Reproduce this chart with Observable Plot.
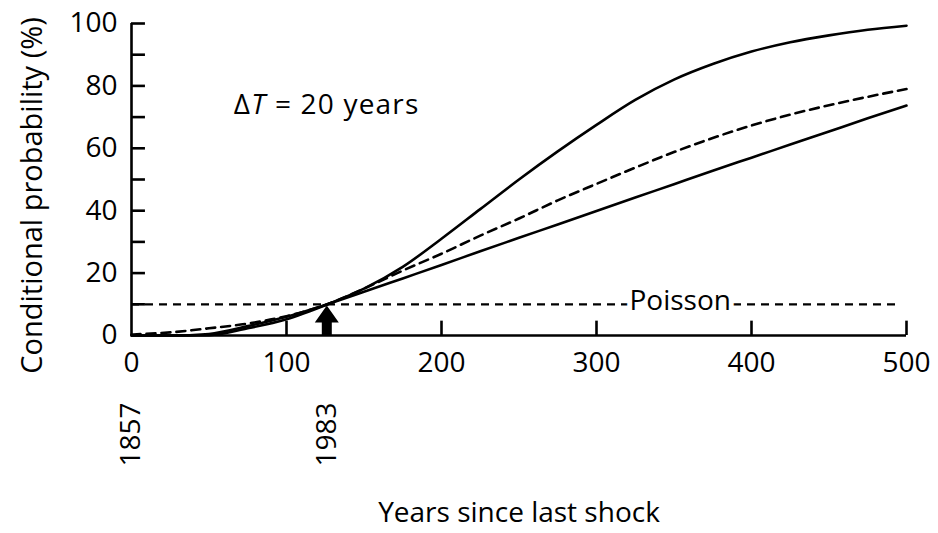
<!DOCTYPE html>
<html>
<head>
<meta charset="utf-8">
<script src="https://cdn.jsdelivr.net/npm/d3@7"></script>
<script src="https://cdn.jsdelivr.net/npm/@observablehq/plot@0.6"></script>
<style>
  html, body { margin: 0; padding: 0; background: #fff; }
</style>
</head>
<body>
<div id="chart"></div>
<script>
// ---- data ----
const years = [0, 25, 50, 75, 100, 125, 150, 175, 200, 225, 250, 275, 300, 325, 350, 375, 400, 425, 450, 475, 500];
// steep solid curve
const upperSolid = [0, 0, 0.1, 2.3, 5.2, 9.7, 15, 22, 31, 40.5, 50, 59, 67.5, 75.5, 82, 87, 91, 94, 96.2, 98, 99.3];
// dashed curve
const middleDashed = [0.3, 1, 2.3, 3.8, 6.2, 9.8, 15, 20.8, 26.2, 32, 37.5, 43.3, 48.6, 53.8, 58.8, 63.3, 67.3, 70.8, 73.8, 76.5, 79];
// shallow solid curve
const lowerSolid = [0, 0, 0.5, 3, 6, 9.8, 14, 18.3, 22.6, 27, 31.3, 35.6, 39.9, 44.2, 48.5, 52.8, 57, 61.2, 65.4, 69.6, 73.7];

const poissonLevel = [10];
const poissonExtent = [0, 495];
const poissonLabel = [{x: 354, y: 10, text: "Poisson"}];
const deltaLabel = [{x: 66, y: 74, text: "ΔT = 20 years"}];

const xTickLabels = [0, 100, 200, 300, 400, 500];
const yTickLabels = [0, 20, 40, 60, 80, 100];
const yTickMarks = [10, 20, 30, 40, 50, 60, 70, 80, 90, 100];
const xTickMarks = [100, 200, 300, 400, 500];
const referenceYear = 1857;
const yearLabels = [1857, 1983];
const arrowYear = [1983];

const xTitle = "Years since last shock";
const yTitle = "Conditional probability (%)";

// ---- build tables ----
const series = [
  {name: "upper", values: upperSolid, dash: null},
  {name: "middle", values: middleDashed, dash: "9,6"},
  {name: "lower", values: lowerSolid, dash: null}
];
const rows = series.flatMap(s => years.map((x, i) => ({series: s.name, x, y: s.values[i]})));

// filled arrow symbol (stem + head) pointing up from its anchor
const arrowSymbol = {
  draw(context) {
    context.moveTo(-5, 0);
    context.lineTo(-5, -13);
    context.lineTo(-12, -13);
    context.lineTo(0, -30);
    context.lineTo(12, -13);
    context.lineTo(5, -13);
    context.lineTo(5, 0);
    context.closePath();
  }
};

const lw = 2.6;

const chart = Plot.plot({
  width: 938,
  height: 533,
  marginLeft: 131,
  marginRight: 32,
  marginTop: 23,
  marginBottom: 198,
  style: {fontFamily: "'Open Sans', 'Noto Sans', sans-serif", fontSize: "28px", color: "#000", background: "#fff"},
  x: {domain: [0, 500]},
  y: {domain: [0, 100]},
  marks: [
    Plot.axisY(yTickLabels, {tickSize: 0, tickPadding: 14, label: null, fontSize: 28}),
    Plot.axisX(xTickLabels, {tickSize: 0, tickPadding: 17, label: null, fontSize: 28}),
    // axis lines
    Plot.ruleX([0], {y1: 0, y2: 100, strokeWidth: lw}),
    Plot.ruleY([0], {x1: 0, x2: 500, strokeWidth: lw}),
    // inward ticks
    Plot.ruleY(yTickMarks, {y: d => d, x1: 0, x2: 9, strokeWidth: lw}),
    Plot.ruleX(xTickMarks, {x: d => d, y1: 0, y2: 4.6, strokeWidth: lw}),
    // Poisson reference line
    Plot.ruleY(poissonLevel, {y: d => d, x1: poissonExtent[0], x2: poissonExtent[1], strokeWidth: 2.2, strokeDasharray: "8,6"}),
    Plot.text(poissonLabel, {x: "x", y: "y", text: "text", fontSize: 28, lineAnchor: "middle", dy: -3, stroke: "#fff", strokeWidth: 10, fill: "#000"}),
    // curves
    ...series.map(s => Plot.line(rows.filter(r => r.series === s.name), {
      x: "x", y: "y", curve: "monotone-x", stroke: "#000", strokeWidth: lw,
      strokeDasharray: s.dash || undefined
    })),
    // arrow at 1983
    Plot.dot(arrowYear, {x: d => d - referenceYear, y: 0, symbol: arrowSymbol, r: 10, fill: "#000", stroke: "none"}),
    // annotation
    Plot.text(deltaLabel, {x: "x", y: "y", text: "text", textAnchor: "start", lineAnchor: "middle", fontSize: 28}),
    // year labels below axis
    Plot.text(yearLabels, {x: d => d - referenceYear, text: d => String(d), frameAnchor: "bottom", rotate: -90, textAnchor: "end", lineAnchor: "middle", dy: 67, fontSize: 28}),
    // axis titles
    Plot.text([xTitle], {text: d => d, frameAnchor: "bottom", dy: 178, lineAnchor: "middle", fontSize: 28}),
    Plot.text([yTitle], {text: d => d, frameAnchor: "left", rotate: -90, dx: -99, dy: 16, textAnchor: "middle", lineAnchor: "middle", fontSize: 29})
  ]
});

// italicise the T in the ΔT annotation
chart.querySelectorAll("text").forEach(t => {
  if (t.textContent === "ΔT = 20 years") {
    t.innerHTML = 'Δ<tspan font-style="italic">T</tspan> = 20 years';
    t.setAttribute("letter-spacing", "1.2");
  }
});

document.getElementById("chart").appendChild(chart);
</script>
</body>
</html>
